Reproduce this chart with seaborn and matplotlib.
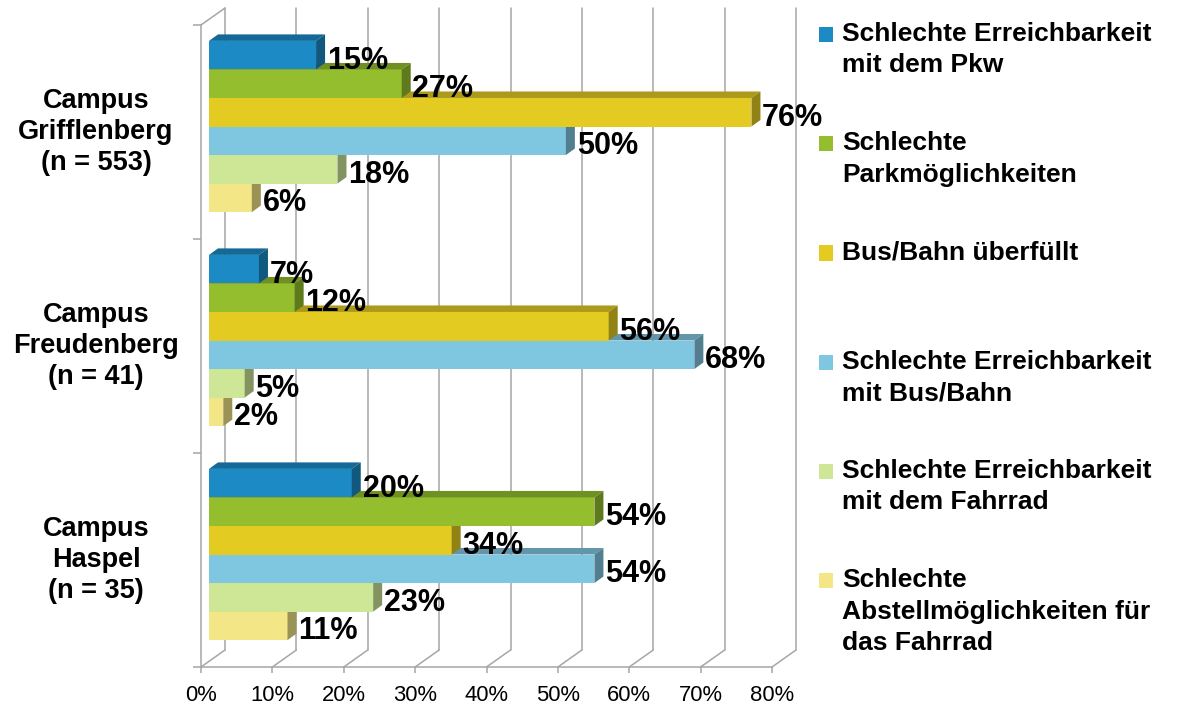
import matplotlib
matplotlib.use("Agg")
import numpy as np
import pandas as pd
import seaborn as sns
import matplotlib.pyplot as plt
from matplotlib.patches import Polygon, Patch, Rectangle
from matplotlib.legend_handler import HandlerPatch
from matplotlib.transforms import ScaledTranslation
from matplotlib.colors import to_rgb

# ---------------- data ----------------
campuses = ["Campus\nGrifflenberg\n(n = 553)",
            "Campus\nFreudenberg\n(n = 41)",
            "Campus\nHaspel\n(n = 35)"]
reasons = ["Schlechte Erreichbarkeit\nmit dem Pkw",
           "Schlechte\nParkmöglichkeiten",
           "Bus/Bahn überfüllt",
           "Schlechte Erreichbarkeit\nmit Bus/Bahn",
           "Schlechte Erreichbarkeit\nmit dem Fahrrad",
           "Schlechte\nAbstellmöglichkeiten für\ndas Fahrrad"]
grifflenberg = [15, 27, 76, 50, 18, 6]
freudenberg = [7, 12, 56, 68, 5, 2]
haspel = [20, 54, 34, 54, 23, 11]
x_ticks = [0, 10, 20, 30, 40, 50, 60, 70, 80]
x_tick_labels = ["0%", "10%", "20%", "30%", "40%", "50%", "60%", "70%", "80%"]

# ---------------- style ----------------
colors = ["#1B8AC5", "#95BE2E", "#E3CB22", "#7FC6E1", "#CDE797", "#F2E686"]
grid_color = "#A6A6A6"

rows = []
for campus, vals in zip(campuses, [grifflenberg, freudenberg, haspel]):
    for reason, v in zip(reasons, vals):
        rows.append({"campus": campus, "reason": reason, "value": v})
df = pd.DataFrame(rows)

sns.set_theme(style="white")
plt.rcParams["font.family"] = ["Liberation Sans", "DejaVu Sans"]
plt.rcParams["text.color"] = "black"

W, H = 1178, 707
fig = plt.figure(figsize=(W / 100, H / 100), dpi=100)
ax = fig.add_axes([201 / W, 40 / H, 571 / W, 642 / H])

sns.barplot(data=df, x="value", y="campus", hue="reason", order=campuses,
            hue_order=reasons, palette=colors, orient="h", errorbar=None,
            saturation=1, width=0.8, legend=False, linewidth=0, ax=ax)

ax.set_xlim(0, 80)
ax.set_ylim(2.5, -0.5)

# pixel <-> data conversions
p0 = ax.transData.transform((0, 0))
px = ax.transData.transform((1, 0))[0] - p0[0]
py = ax.transData.transform((0, 1))[1] - p0[1]   # negative (inverted axis)

def dpx(dx_px, dy_up_px):
    return dx_px / px, dy_up_px / py

# 3D-ish offsets (pixels)
FRONT = (8, 5.5)     # bar front plane relative to axis plane
DEPTH = (9, 6.5)     # bar depth
WALL = (24, 17)      # back wall relative to axis plane

T_bar = ax.transData + ScaledTranslation(FRONT[0] / 100, FRONT[1] / 100, fig.dpi_scale_trans)
T_wall = ax.transData + ScaledTranslation(WALL[0] / 100, WALL[1] / 100, fig.dpi_scale_trans)

def shade(c, f):
    r, g, b = to_rgb(c)
    return (r * f, g * f, b * f)

ddx, ddy = dpx(*DEPTH)
n = len(ax.containers)
for k, cont in enumerate(ax.containers):
    col = colors[k]
    z = 3 + (n - k)
    for patch in cont.patches:
        patch.set_transform(T_bar)
        patch.set_zorder(z)
        patch.set_linewidth(0)
        x0, y0 = patch.get_x(), patch.get_y()
        w, h = patch.get_width(), patch.get_height()
        x1 = x0 + w
        top = Polygon([(x0, y0), (x1, y0), (x1 + ddx, y0 + ddy), (x0 + ddx, y0 + ddy)],
                      closed=True, transform=T_bar, facecolor=shade(col, 0.76),
                      edgecolor="none", zorder=z)
        side = Polygon([(x1, y0), (x1 + ddx, y0 + ddy), (x1 + ddx, y0 + h + ddy), (x1, y0 + h)],
                       closed=True, transform=T_bar, facecolor=shade(col, 0.64),
                       edgecolor="none", zorder=z)
        ax.add_patch(top)
        ax.add_patch(side)
    ax.bar_label(cont, labels=[f"{v:.0f}%" for v in cont.datavalues], padding=13.5,
                 fontsize=22, fontweight="bold", color="black", zorder=30)

# back wall gridlines and floor diagonals
wdx, wdy = dpx(*WALL)
for t in x_ticks:
    ax.plot([t, t], [2.5, -0.5], transform=T_wall, color=grid_color, lw=1.1,
            zorder=0.5, clip_on=False)
    ax.plot([t, t + wdx], [2.5, 2.5 + wdy], color=grid_color, lw=1.1,
            zorder=0.5, clip_on=False)
ax.plot([0, wdx], [-0.5, -0.5 + wdy], color=grid_color, lw=1.1, zorder=0.5, clip_on=False)

# spines and ticks
for s in ["top", "right"]:
    ax.spines[s].set_visible(False)
for s in ["left", "bottom"]:
    ax.spines[s].set_color(grid_color)
    ax.spines[s].set_linewidth(1.1)

ax.set_xticks(x_ticks, x_tick_labels)
ax.set_yticks(range(len(campuses)), campuses, ha="center", va="center",
              multialignment="center", linespacing=1.25, fontweight="bold", fontsize=19.5)
ax.set_yticks([-0.5, 0.5, 1.5, 2.5], minor=True)
ax.tick_params(axis="x", bottom=True, direction="out", length=4.3, width=1.1,
               color=grid_color, pad=9, labelsize=15.8, labelcolor="black")
ax.tick_params(axis="y", which="major", left=True, length=0, pad=75.6, labelcolor="black")
ax.tick_params(axis="y", which="minor", left=True, direction="out", length=5.8,
               width=1.1, color=grid_color)
ax.set_xlabel("")
ax.set_ylabel("")

# legend
LEG_FS = 19
def lowered_square(legend, orig_handle, xdescent, ydescent, width, height, fontsize):
    return Rectangle((-xdescent, -ydescent - 3.6), width, height)

handles = [Patch(facecolor=c, edgecolor="none") for c in colors]
leg_labels = [r if "\n" in r else r + "\n" for r in reasons]
leg = fig.legend(handles, leg_labels, loc="upper left",
                 bbox_to_anchor=(819 / W, 1 - 22 / H), frameon=False,
                 borderpad=0, borderaxespad=0, handlelength=0.53, handleheight=0.5,
                 handletextpad=0.34, labelspacing=2.04, labelcolor="black",
                 handler_map={Patch: HandlerPatch(patch_func=lowered_square)},
                 prop={"weight": "bold", "size": LEG_FS})
for t in leg.get_texts():
    t.set_linespacing(1.39)
for colbox in leg._legend_handle_box.get_children():
    for entry in colbox.get_children():
        entry.align = "top"

fig.savefig("out.png", dpi=100)
